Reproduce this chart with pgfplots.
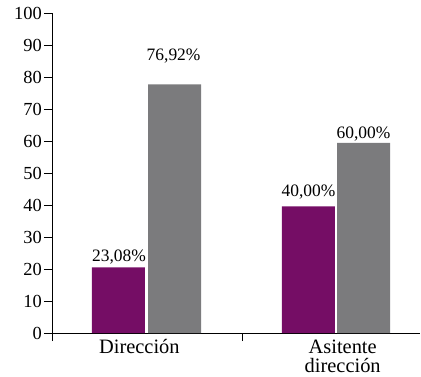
\documentclass[border=0pt]{standalone}
\usepackage{fontspec}
\setmainfont{Liberation Serif}
\usepackage{pgfplots}
\pgfplotsset{compat=1.18}
\definecolor{cpurple}{RGB}{117,13,101}
\definecolor{cgray}{RGB}{123,123,125}
\begin{document}
\begin{tikzpicture}
\begin{axis}[
  at={(0,0)}, anchor=south west,
  scale only axis, width=368bp, height=320bp,
  xmin=0, xmax=1.937, ymin=0, ymax=100,
  axis x line=bottom, axis y line=left,
  axis line style={-, line width=0.8pt},
  tick align=outside, major tick length=8bp,
  tick style={line width=0.8pt, black},
  ytick={0,10,...,100},
  yticklabel style={font=\rmfamily\fontsize{18.5}{20}\selectfont, xshift=0bp, inner sep=2bp},
  /pgf/number format/assume math mode=true,
  xtick={0,1,2}, xticklabels={},
  extra x ticks={0.46,1.53},
  extra x tick labels={Dirección, Asitente\\[-2bp]dirección},
  extra x tick style={major tick length=0pt, tick label style={align=center, font=\rmfamily\fontsize{20.5}{22}\selectfont, yshift=-3bp}},
  clip=false,
]
\addplot[ybar, bar width=0.279, bar shift=0, fill=cpurple, draw=none] coordinates {(0.35,20.5) (1.35,39.6)};
\addplot[ybar, bar width=0.279, bar shift=0, fill=cgray, draw=none] coordinates {(0.645,77.7) (1.64,59.4)};
\addplot[draw=none, mark=none, nodes near coords, point meta=explicit symbolic,
  every node near coord/.append style={anchor=center, font=\rmfamily\fontsize{17.5}{19}\selectfont}]
  coordinates {(0.353,23.6)[23,08\%] (0.64,86.6)[76,92\%] (1.35,43.9)[40,00\%] (1.64,62.3)[60,00\%]};
\end{axis}
\pgfresetboundingbox
\path (-52bp,-44bp) rectangle (369bp,333bp);
\end{tikzpicture}
\end{document}
